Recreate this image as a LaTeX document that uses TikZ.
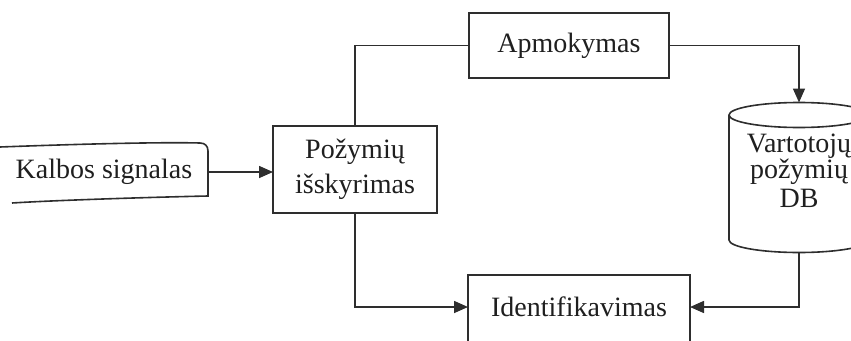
\documentclass[tikz,border=0pt]{standalone}
\usepackage{fontspec}
\setmainfont{Liberation Serif}
\usetikzlibrary{arrows.meta}
\begin{document}
\begin{tikzpicture}[x=1pt,y=-1pt,
  line width=1.6pt,
  ln/.style={draw=black!82},
  box/.style={ln, fill=white, rectangle, inner sep=0pt},
  lbl/.style={font=\fontsize{28}{33}\selectfont, text=black!88, align=center},
  arr/.style={ln, -{Triangle[length=14pt,width=12pt]}},
]
\useasboundingbox (0,0) rectangle (851,340);
\clip (0,0) rectangle (851,340);

% input: speech signal (open-left storage shape)
\draw[ln] (0,147) .. controls (80,144) and (160,142) .. (200,143)
  .. controls (205,143) and (208,146) .. (208,151) -- (208,196)
  .. controls (160,197) and (60,200) .. (12,203);
\node[lbl, minimum width=208pt, minimum height=50pt, inner sep=0pt] (kal) at (104,172) {Kalbos signalas};

% processing blocks
\node[box, minimum width=164pt, minimum height=87pt] (poz) at (355,169.5) {};
\node[lbl] at (355,152) {Požymių};
\node[lbl] at (355,187) {išskyrimas};

\node[box, lbl, minimum width=200pt, minimum height=65pt] (apm) at (569,45.5) {Apmokymas};
\node[box, minimum width=222pt, minimum height=68pt] (idf) at (579,309) {};
\node[lbl] at (579,307) {Identifikavimas};

% user feature database (cylinder)
\draw[ln, fill=white] (729,115) -- (729,240) arc[start angle=180, end angle=0, x radius=70, y radius=12.5]
  -- (869,115) arc[start angle=0, end angle=-180, x radius=70, y radius=12.5] -- cycle;
\draw[ln] (729,115) arc[start angle=180, end angle=0, x radius=70, y radius=12.5];
\coordinate (dbtop) at (799,102.5);
\coordinate (dbbot) at (799,252.5);
\node[lbl] (db1) at (799,146) {Vartotojų};
\node[lbl] (db2) at (799,172) {požymių};
\node[lbl] (db3) at (799,198) {DB};

% connectors
\coordinate (inl) at (273,172);
\draw[arr] (kal.east) -- (inl);
\draw[ln] (poz.north) |- (apm.west);
\draw[arr] (apm.east) -| (dbtop);
\coordinate (idr) at (690,307);
\coordinate (idl) at (468,307);
\draw[arr] (dbbot) |- (idr);
\draw[arr] (poz.south) |- (idl);
\end{tikzpicture}
\end{document}
